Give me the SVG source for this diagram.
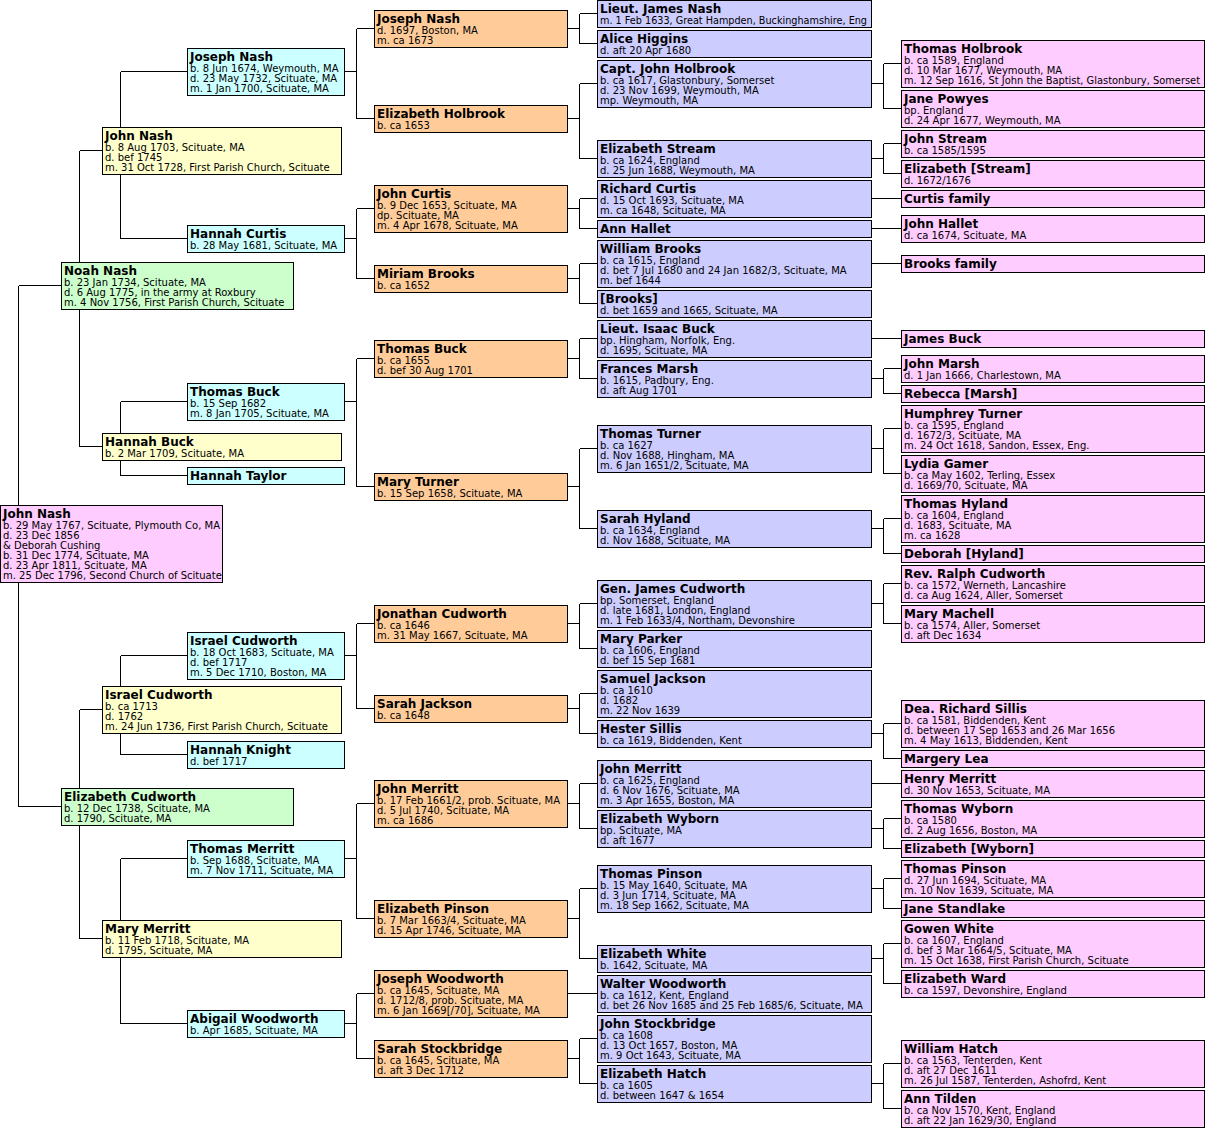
<svg xmlns="http://www.w3.org/2000/svg" width="1205" height="1128" viewBox="0 0 1205 1128">
<style>
g rect{stroke:#000;stroke-width:1;shape-rendering:crispEdges}
.pk{fill:#FFCCFF}.gr{fill:#CCFFCC}.ye{fill:#FFFFCC}.cy{fill:#CCFFFF}.or{fill:#FFCC99}.bl{fill:#CCCCFF}
.cn{fill:none;stroke:#000;stroke-width:1;shape-rendering:crispEdges}
text{font-family:"DejaVu Sans","Liberation Sans",sans-serif;fill:#000}
.t{font-size:12px;font-weight:bold}
.d{font-size:10px}
</style>
<rect x="0" y="0" width="1205" height="1128" style="fill:#fff;stroke:none"/>
<g id="connectors">
<path class="cn" d="M18.5 285.5V806.5M18.5 285.5H61.5M18.5 806.5H61.5"/>
<path class="cn" d="M79.5 150.5V446.5M79.5 150.5H102.5M79.5 446.5H102.5M79.5 709.5V938.5M79.5 709.5H102.5M79.5 938.5H102.5"/>
<path class="cn" d="M120.5 71.5V238.5M120.5 71.5H187.5M120.5 238.5H187.5M120.5 401.5V475.5M120.5 401.5H187.5M120.5 475.5H187.5M120.5 655.5V754.5M120.5 655.5H187.5M120.5 754.5H187.5M120.5 858.5V1023.5M120.5 858.5H187.5M120.5 1023.5H187.5"/>
<path class="cn" d="M344.5 71.5H356.5M356.5 28.5V118.5M356.5 28.5H374.5M356.5 118.5H374.5
M344.5 238.5H356.5M356.5 208.5V278.5M356.5 208.5H374.5M356.5 278.5H374.5
M344.5 401.5H356.5M356.5 358.5V486.5M356.5 358.5H374.5M356.5 486.5H374.5
M344.5 655.5H356.5M356.5 623.5V708.5M356.5 623.5H374.5M356.5 708.5H374.5
M344.5 858.5H356.5M356.5 803.5V918.5M356.5 803.5H374.5M356.5 918.5H374.5
M344.5 1023.5H356.5M356.5 993.5V1058.5M356.5 993.5H374.5M356.5 1058.5H374.5"/>
<path class="cn" d="M567.5 28.5H579.5M579.5 13.5V43.5M579.5 13.5H597.5M579.5 43.5H597.5
M567.5 118.5H579.5M579.5 83.5V158.5M579.5 83.5H597.5M579.5 158.5H597.5
M567.5 208.5H579.5M579.5 198.5V228.5M579.5 198.5H597.5M579.5 228.5H597.5
M567.5 278.5H579.5M579.5 263.5V303.5M579.5 263.5H597.5M579.5 303.5H597.5
M567.5 358.5H579.5M579.5 338.5V378.5M579.5 338.5H597.5M579.5 378.5H597.5
M567.5 486.5H579.5M579.5 448.5V528.5M579.5 448.5H597.5M579.5 528.5H597.5
M567.5 623.5H579.5M579.5 603.5V648.5M579.5 603.5H597.5M579.5 648.5H597.5
M567.5 708.5H579.5M579.5 693.5V733.5M579.5 693.5H597.5M579.5 733.5H597.5
M567.5 803.5H579.5M579.5 783.5V828.5M579.5 783.5H597.5M579.5 828.5H597.5
M567.5 918.5H579.5M579.5 888.5V958.5M579.5 888.5H597.5M579.5 958.5H597.5
M567.5 993.5H597.5
M567.5 1058.5H579.5M579.5 1038.5V1083.5M579.5 1038.5H597.5M579.5 1083.5H597.5"/>
<path class="cn" d="M871.5 83.5H883.5M883.5 63.5V108.5M883.5 63.5H901.5M883.5 108.5H901.5
M871.5 158.5H883.5M883.5 143.5V173.5M883.5 143.5H901.5M883.5 173.5H901.5
M871.5 198.5H901.5M871.5 228.5H901.5M871.5 263.5H901.5M871.5 338.5H901.5
M871.5 378.5H883.5M883.5 368.5V393.5M883.5 368.5H901.5M883.5 393.5H901.5
M871.5 448.5H883.5M883.5 428.5V473.5M883.5 428.5H901.5M883.5 473.5H901.5
M871.5 528.5H883.5M883.5 518.5V553.5M883.5 518.5H901.5M883.5 553.5H901.5
M871.5 603.5H883.5M883.5 583.5V623.5M883.5 583.5H901.5M883.5 623.5H901.5
M871.5 733.5H883.5M883.5 723.5V758.5M883.5 723.5H901.5M883.5 758.5H901.5
M871.5 783.5H901.5
M871.5 828.5H883.5M883.5 818.5V848.5M883.5 818.5H901.5M883.5 848.5H901.5
M871.5 888.5H883.5M883.5 878.5V908.5M883.5 878.5H901.5M883.5 908.5H901.5
M871.5 958.5H883.5M883.5 943.5V983.5M883.5 943.5H901.5M883.5 983.5H901.5
M871.5 1083.5H883.5M883.5 1063.5V1108.5M883.5 1063.5H901.5M883.5 1108.5H901.5"/>
</g>

<g id="root-john-nash"><rect class="pk" x="0.5" y="505.5" width="222" height="77"/>
<text class="t" x="3" y="518">John Nash</text>
<text class="d" x="3" y="529">b. 29 May 1767, Scituate, Plymouth Co, MA</text>
<text class="d" x="3" y="539">d. 23 Dec 1856</text>
<text class="d" x="3" y="549">&amp; Deborah Cushing</text>
<text class="d" x="3" y="559">b. 31 Dec 1774, Scituate, MA</text>
<text class="d" x="3" y="569">d. 23 Apr 1811, Scituate, MA</text>
<text class="d" x="3" y="579">m. 25 Dec 1796, Second Church of Scituate</text></g>

<g id="noah-nash"><rect class="gr" x="61.5" y="262.5" width="232" height="47"/>
<text class="t" x="64" y="275">Noah Nash</text>
<text class="d" x="64" y="286">b. 23 Jan 1734, Scituate, MA</text>
<text class="d" x="64" y="296">d. 6 Aug 1775, in the army at Roxbury</text>
<text class="d" x="64" y="306">m. 4 Nov 1756, First Parish Church, Scituate</text></g>
<g id="elizabeth-cudworth"><rect class="gr" x="61.5" y="788.5" width="232" height="37"/>
<text class="t" x="64" y="801">Elizabeth Cudworth</text>
<text class="d" x="64" y="812">b. 12 Dec 1738, Scituate, MA</text>
<text class="d" x="64" y="822">d. 1790, Scituate, MA</text></g>

<g id="john-nash-1703"><rect class="ye" x="102.5" y="127.5" width="239" height="47"/>
<text class="t" x="105" y="140">John Nash</text>
<text class="d" x="105" y="151">b. 8 Aug 1703, Scituate, MA</text>
<text class="d" x="105" y="161">d. bef 1745</text>
<text class="d" x="105" y="171">m. 31 Oct 1728, First Parish Church, Scituate</text></g>
<g id="hannah-buck"><rect class="ye" x="102.5" y="433.5" width="239" height="27"/>
<text class="t" x="105" y="446">Hannah Buck</text>
<text class="d" x="105" y="457">b. 2 Mar 1709, Scituate, MA</text></g>
<g id="israel-cudworth-1713"><rect class="ye" x="102.5" y="686.5" width="239" height="47"/>
<text class="t" x="105" y="699">Israel Cudworth</text>
<text class="d" x="105" y="710">b. ca 1713</text>
<text class="d" x="105" y="720">d. 1762</text>
<text class="d" x="105" y="730">m. 24 Jun 1736, First Parish Church, Scituate</text></g>
<g id="mary-merritt"><rect class="ye" x="102.5" y="920.5" width="239" height="37"/>
<text class="t" x="105" y="933">Mary Merritt</text>
<text class="d" x="105" y="944">b. 11 Feb 1718, Scituate, MA</text>
<text class="d" x="105" y="954">d. 1795, Scituate, MA</text></g>

<g id="joseph-nash-1674"><rect class="cy" x="187.5" y="48.5" width="157" height="47"/>
<text class="t" x="190" y="61">Joseph Nash</text>
<text class="d" x="190" y="72">b. 8 Jun 1674, Weymouth, MA</text>
<text class="d" x="190" y="82">d. 23 May 1732, Scituate, MA</text>
<text class="d" x="190" y="92">m. 1 Jan 1700, Scituate, MA</text></g>
<g id="hannah-curtis"><rect class="cy" x="187.5" y="225.5" width="157" height="27"/>
<text class="t" x="190" y="238">Hannah Curtis</text>
<text class="d" x="190" y="249">b. 28 May 1681, Scituate, MA</text></g>
<g id="thomas-buck-1682"><rect class="cy" x="187.5" y="383.5" width="157" height="37"/>
<text class="t" x="190" y="396">Thomas Buck</text>
<text class="d" x="190" y="407">b. 15 Sep 1682</text>
<text class="d" x="190" y="417">m. 8 Jan 1705, Scituate, MA</text></g>
<g id="hannah-taylor"><rect class="cy" x="187.5" y="467.5" width="157" height="17"/>
<text class="t" x="190" y="480">Hannah Taylor</text></g>
<g id="israel-cudworth-1683"><rect class="cy" x="187.5" y="632.5" width="157" height="47"/>
<text class="t" x="190" y="645">Israel Cudworth</text>
<text class="d" x="190" y="656">b. 18 Oct 1683, Scituate, MA</text>
<text class="d" x="190" y="666">d. bef 1717</text>
<text class="d" x="190" y="676">m. 5 Dec 1710, Boston, MA</text></g>
<g id="hannah-knight"><rect class="cy" x="187.5" y="741.5" width="157" height="27"/>
<text class="t" x="190" y="754">Hannah Knight</text>
<text class="d" x="190" y="765">d. bef 1717</text></g>
<g id="thomas-merritt"><rect class="cy" x="187.5" y="840.5" width="157" height="37"/>
<text class="t" x="190" y="853">Thomas Merritt</text>
<text class="d" x="190" y="864">b. Sep 1688, Scituate, MA</text>
<text class="d" x="190" y="874">m. 7 Nov 1711, Scituate, MA</text></g>
<g id="abigail-woodworth"><rect class="cy" x="187.5" y="1010.5" width="157" height="27"/>
<text class="t" x="190" y="1023">Abigail Woodworth</text>
<text class="d" x="190" y="1034">b. Apr 1685, Scituate, MA</text></g>

<g id="joseph-nash-1697"><rect class="or" x="374.5" y="10.5" width="193" height="37"/>
<text class="t" x="377" y="23">Joseph Nash</text>
<text class="d" x="377" y="34">d. 1697, Boston, MA</text>
<text class="d" x="377" y="44">m. ca 1673</text></g>
<g id="elizabeth-holbrook"><rect class="or" x="374.5" y="105.5" width="193" height="27"/>
<text class="t" x="377" y="118">Elizabeth Holbrook</text>
<text class="d" x="377" y="129">b. ca 1653</text></g>
<g id="john-curtis"><rect class="or" x="374.5" y="185.5" width="193" height="47"/>
<text class="t" x="377" y="198">John Curtis</text>
<text class="d" x="377" y="209">b. 9 Dec 1653, Scituate, MA</text>
<text class="d" x="377" y="219">dp. Scituate, MA</text>
<text class="d" x="377" y="229">m. 4 Apr 1678, Scituate, MA</text></g>
<g id="miriam-brooks"><rect class="or" x="374.5" y="265.5" width="193" height="27"/>
<text class="t" x="377" y="278">Miriam Brooks</text>
<text class="d" x="377" y="289">b. ca 1652</text></g>
<g id="thomas-buck-1655"><rect class="or" x="374.5" y="340.5" width="193" height="37"/>
<text class="t" x="377" y="353">Thomas Buck</text>
<text class="d" x="377" y="364">b. ca 1655</text>
<text class="d" x="377" y="374">d. bef 30 Aug 1701</text></g>
<g id="mary-turner"><rect class="or" x="374.5" y="473.5" width="193" height="27"/>
<text class="t" x="377" y="486">Mary Turner</text>
<text class="d" x="377" y="497">b. 15 Sep 1658, Scituate, MA</text></g>
<g id="jonathan-cudworth"><rect class="or" x="374.5" y="605.5" width="193" height="37"/>
<text class="t" x="377" y="618">Jonathan Cudworth</text>
<text class="d" x="377" y="629">b. ca 1646</text>
<text class="d" x="377" y="639">m. 31 May 1667, Scituate, MA</text></g>
<g id="sarah-jackson"><rect class="or" x="374.5" y="695.5" width="193" height="27"/>
<text class="t" x="377" y="708">Sarah Jackson</text>
<text class="d" x="377" y="719">b. ca 1648</text></g>
<g id="john-merritt-1661"><rect class="or" x="374.5" y="780.5" width="193" height="47"/>
<text class="t" x="377" y="793">John Merritt</text>
<text class="d" x="377" y="804">b. 17 Feb 1661/2, prob. Scituate, MA</text>
<text class="d" x="377" y="814">d. 5 Jul 1740, Scituate, MA</text>
<text class="d" x="377" y="824">m. ca 1686</text></g>
<g id="elizabeth-pinson"><rect class="or" x="374.5" y="900.5" width="193" height="37"/>
<text class="t" x="377" y="913">Elizabeth Pinson</text>
<text class="d" x="377" y="924">b. 7 Mar 1663/4, Scituate, MA</text>
<text class="d" x="377" y="934">d. 15 Apr 1746, Scituate, MA</text></g>
<g id="joseph-woodworth"><rect class="or" x="374.5" y="970.5" width="193" height="47"/>
<text class="t" x="377" y="983">Joseph Woodworth</text>
<text class="d" x="377" y="994">b. ca 1645, Scituate, MA</text>
<text class="d" x="377" y="1004">d. 1712/8, prob. Scituate, MA</text>
<text class="d" x="377" y="1014">m. 6 Jan 1669[/70], Scituate, MA</text></g>
<g id="sarah-stockbridge"><rect class="or" x="374.5" y="1040.5" width="193" height="37"/>
<text class="t" x="377" y="1053">Sarah Stockbridge</text>
<text class="d" x="377" y="1064">b. ca 1645, Scituate, MA</text>
<text class="d" x="377" y="1074">d. aft 3 Dec 1712</text></g>

<g id="lieut-james-nash"><rect class="bl" x="597.5" y="0.5" width="274" height="27"/>
<text class="t" x="600" y="13">Lieut. James Nash</text>
<text class="d" x="600" y="24" textLength="267" lengthAdjust="spacingAndGlyphs">m. 1 Feb 1633, Great Hampden, Buckinghamshire, Eng</text></g>
<g id="alice-higgins"><rect class="bl" x="597.5" y="30.5" width="274" height="27"/>
<text class="t" x="600" y="43">Alice Higgins</text>
<text class="d" x="600" y="54">d. aft 20 Apr 1680</text></g>
<g id="capt-john-holbrook"><rect class="bl" x="597.5" y="60.5" width="274" height="47"/>
<text class="t" x="600" y="73">Capt. John Holbrook</text>
<text class="d" x="600" y="84">b. ca 1617, Glastonbury, Somerset</text>
<text class="d" x="600" y="94">d. 23 Nov 1699, Weymouth, MA</text>
<text class="d" x="600" y="104">mp. Weymouth, MA</text></g>
<g id="elizabeth-stream"><rect class="bl" x="597.5" y="140.5" width="274" height="37"/>
<text class="t" x="600" y="153">Elizabeth Stream</text>
<text class="d" x="600" y="164">b. ca 1624, England</text>
<text class="d" x="600" y="174">d. 25 Jun 1688, Weymouth, MA</text></g>
<g id="richard-curtis"><rect class="bl" x="597.5" y="180.5" width="274" height="37"/>
<text class="t" x="600" y="193">Richard Curtis</text>
<text class="d" x="600" y="204">d. 15 Oct 1693, Scituate, MA</text>
<text class="d" x="600" y="214">m. ca 1648, Scituate, MA</text></g>
<g id="ann-hallet"><rect class="bl" x="597.5" y="220.5" width="274" height="17"/>
<text class="t" x="600" y="233">Ann Hallet</text></g>
<g id="william-brooks"><rect class="bl" x="597.5" y="240.5" width="274" height="47"/>
<text class="t" x="600" y="253">William Brooks</text>
<text class="d" x="600" y="264">b. ca 1615, England</text>
<text class="d" x="600" y="274">d. bet 7 Jul 1680 and 24 Jan 1682/3, Scituate, MA</text>
<text class="d" x="600" y="284">m. bef 1644</text></g>
<g id="brooks"><rect class="bl" x="597.5" y="290.5" width="274" height="27"/>
<text class="t" x="600" y="303">[Brooks]</text>
<text class="d" x="600" y="314">d. bet 1659 and 1665, Scituate, MA</text></g>
<g id="lieut-isaac-buck"><rect class="bl" x="597.5" y="320.5" width="274" height="37"/>
<text class="t" x="600" y="333">Lieut. Isaac Buck</text>
<text class="d" x="600" y="344">bp. Hingham, Norfolk, Eng.</text>
<text class="d" x="600" y="354">d. 1695, Scituate, MA</text></g>
<g id="frances-marsh"><rect class="bl" x="597.5" y="360.5" width="274" height="37"/>
<text class="t" x="600" y="373">Frances Marsh</text>
<text class="d" x="600" y="384">b. 1615, Padbury, Eng.</text>
<text class="d" x="600" y="394">d. aft Aug 1701</text></g>
<g id="thomas-turner"><rect class="bl" x="597.5" y="425.5" width="274" height="47"/>
<text class="t" x="600" y="438">Thomas Turner</text>
<text class="d" x="600" y="449">b. ca 1627</text>
<text class="d" x="600" y="459">d. Nov 1688, Hingham, MA</text>
<text class="d" x="600" y="469">m. 6 Jan 1651/2, Scituate, MA</text></g>
<g id="sarah-hyland"><rect class="bl" x="597.5" y="510.5" width="274" height="37"/>
<text class="t" x="600" y="523">Sarah Hyland</text>
<text class="d" x="600" y="534">b. ca 1634, England</text>
<text class="d" x="600" y="544">d. Nov 1688, Scituate, MA</text></g>
<g id="gen-james-cudworth"><rect class="bl" x="597.5" y="580.5" width="274" height="47"/>
<text class="t" x="600" y="593">Gen. James Cudworth</text>
<text class="d" x="600" y="604">bp. Somerset, England</text>
<text class="d" x="600" y="614">d. late 1681, London, England</text>
<text class="d" x="600" y="624">m. 1 Feb 1633/4, Northam, Devonshire</text></g>
<g id="mary-parker"><rect class="bl" x="597.5" y="630.5" width="274" height="37"/>
<text class="t" x="600" y="643">Mary Parker</text>
<text class="d" x="600" y="654">b. ca 1606, England</text>
<text class="d" x="600" y="664">d. bef 15 Sep 1681</text></g>
<g id="samuel-jackson"><rect class="bl" x="597.5" y="670.5" width="274" height="47"/>
<text class="t" x="600" y="683">Samuel Jackson</text>
<text class="d" x="600" y="694">b. ca 1610</text>
<text class="d" x="600" y="704">d. 1682</text>
<text class="d" x="600" y="714">m. 22 Nov 1639</text></g>
<g id="hester-sillis"><rect class="bl" x="597.5" y="720.5" width="274" height="27"/>
<text class="t" x="600" y="733">Hester Sillis</text>
<text class="d" x="600" y="744">b. ca 1619, Biddenden, Kent</text></g>
<g id="john-merritt-1625"><rect class="bl" x="597.5" y="760.5" width="274" height="47"/>
<text class="t" x="600" y="773">John Merritt</text>
<text class="d" x="600" y="784">b. ca 1625, England</text>
<text class="d" x="600" y="794">d. 6 Nov 1676, Scituate, MA</text>
<text class="d" x="600" y="804">m. 3 Apr 1655, Boston, MA</text></g>
<g id="elizabeth-wyborn"><rect class="bl" x="597.5" y="810.5" width="274" height="37"/>
<text class="t" x="600" y="823">Elizabeth Wyborn</text>
<text class="d" x="600" y="834">bp. Scituate, MA</text>
<text class="d" x="600" y="844">d. aft 1677</text></g>
<g id="thomas-pinson-1640"><rect class="bl" x="597.5" y="865.5" width="274" height="47"/>
<text class="t" x="600" y="878">Thomas Pinson</text>
<text class="d" x="600" y="889">b. 15 May 1640, Scituate, MA</text>
<text class="d" x="600" y="899">d. 3 Jun 1714, Scituate, MA</text>
<text class="d" x="600" y="909">m. 18 Sep 1662, Scituate, MA</text></g>
<g id="elizabeth-white"><rect class="bl" x="597.5" y="945.5" width="274" height="27"/>
<text class="t" x="600" y="958">Elizabeth White</text>
<text class="d" x="600" y="969">b. 1642, Scituate, MA</text></g>
<g id="walter-woodworth"><rect class="bl" x="597.5" y="975.5" width="274" height="37"/>
<text class="t" x="600" y="988">Walter Woodworth</text>
<text class="d" x="600" y="999">b. ca 1612, Kent, England</text>
<text class="d" x="600" y="1009">d. bet 26 Nov 1685 and 25 Feb 1685/6, Scituate, MA</text></g>
<g id="john-stockbridge"><rect class="bl" x="597.5" y="1015.5" width="274" height="47"/>
<text class="t" x="600" y="1028">John Stockbridge</text>
<text class="d" x="600" y="1039">b. ca 1608</text>
<text class="d" x="600" y="1049">d. 13 Oct 1657, Boston, MA</text>
<text class="d" x="600" y="1059">m. 9 Oct 1643, Scituate, MA</text></g>
<g id="elizabeth-hatch"><rect class="bl" x="597.5" y="1065.5" width="274" height="37"/>
<text class="t" x="600" y="1078">Elizabeth Hatch</text>
<text class="d" x="600" y="1089">b. ca 1605</text>
<text class="d" x="600" y="1099">d. between 1647 &amp; 1654</text></g>

<g id="thomas-holbrook"><rect class="pk" x="901.5" y="40.5" width="303" height="47"/>
<text class="t" x="904" y="53">Thomas Holbrook</text>
<text class="d" x="904" y="64">b. ca 1589, England</text>
<text class="d" x="904" y="74">d. 10 Mar 1677, Weymouth, MA</text>
<text class="d" x="904" y="84" textLength="296" lengthAdjust="spacingAndGlyphs">m. 12 Sep 1616, St John the Baptist, Glastonbury, Somerset</text></g>
<g id="jane-powyes"><rect class="pk" x="901.5" y="90.5" width="303" height="37"/>
<text class="t" x="904" y="103">Jane Powyes</text>
<text class="d" x="904" y="114">bp. England</text>
<text class="d" x="904" y="124">d. 24 Apr 1677, Weymouth, MA</text></g>
<g id="john-stream"><rect class="pk" x="901.5" y="130.5" width="303" height="27"/>
<text class="t" x="904" y="143">John Stream</text>
<text class="d" x="904" y="154">b. ca 1585/1595</text></g>
<g id="elizabeth-stream-mother"><rect class="pk" x="901.5" y="160.5" width="303" height="27"/>
<text class="t" x="904" y="173">Elizabeth [Stream]</text>
<text class="d" x="904" y="184">d. 1672/1676</text></g>
<g id="curtis-family"><rect class="pk" x="901.5" y="190.5" width="303" height="17"/>
<text class="t" x="904" y="203">Curtis family</text></g>
<g id="john-hallet"><rect class="pk" x="901.5" y="215.5" width="303" height="27"/>
<text class="t" x="904" y="228">John Hallet</text>
<text class="d" x="904" y="239">d. ca 1674, Scituate, MA</text></g>
<g id="brooks-family"><rect class="pk" x="901.5" y="255.5" width="303" height="17"/>
<text class="t" x="904" y="268">Brooks family</text></g>
<g id="james-buck"><rect class="pk" x="901.5" y="330.5" width="303" height="17"/>
<text class="t" x="904" y="343">James Buck</text></g>
<g id="john-marsh"><rect class="pk" x="901.5" y="355.5" width="303" height="27"/>
<text class="t" x="904" y="368">John Marsh</text>
<text class="d" x="904" y="379">d. 1 Jan 1666, Charlestown, MA</text></g>
<g id="rebecca-marsh"><rect class="pk" x="901.5" y="385.5" width="303" height="17"/>
<text class="t" x="904" y="398">Rebecca [Marsh]</text></g>
<g id="humphrey-turner"><rect class="pk" x="901.5" y="405.5" width="303" height="47"/>
<text class="t" x="904" y="418">Humphrey Turner</text>
<text class="d" x="904" y="429">b. ca 1595, England</text>
<text class="d" x="904" y="439">d. 1672/3, Scituate, MA</text>
<text class="d" x="904" y="449">m. 24 Oct 1618, Sandon, Essex, Eng.</text></g>
<g id="lydia-gamer"><rect class="pk" x="901.5" y="455.5" width="303" height="37"/>
<text class="t" x="904" y="468">Lydia Gamer</text>
<text class="d" x="904" y="479">b. ca May 1602, Terling, Essex</text>
<text class="d" x="904" y="489">d. 1669/70, Scituate, MA</text></g>
<g id="thomas-hyland"><rect class="pk" x="901.5" y="495.5" width="303" height="47"/>
<text class="t" x="904" y="508">Thomas Hyland</text>
<text class="d" x="904" y="519">b. ca 1604, England</text>
<text class="d" x="904" y="529">d. 1683, Scituate, MA</text>
<text class="d" x="904" y="539">m. ca 1628</text></g>
<g id="deborah-hyland"><rect class="pk" x="901.5" y="545.5" width="303" height="17"/>
<text class="t" x="904" y="558">Deborah [Hyland]</text></g>
<g id="rev-ralph-cudworth"><rect class="pk" x="901.5" y="565.5" width="303" height="37"/>
<text class="t" x="904" y="578">Rev. Ralph Cudworth</text>
<text class="d" x="904" y="589">b. ca 1572, Werneth, Lancashire</text>
<text class="d" x="904" y="599">d. ca Aug 1624, Aller, Somerset</text></g>
<g id="mary-machell"><rect class="pk" x="901.5" y="605.5" width="303" height="37"/>
<text class="t" x="904" y="618">Mary Machell</text>
<text class="d" x="904" y="629">b. ca 1574, Aller, Somerset</text>
<text class="d" x="904" y="639">d. aft Dec 1634</text></g>
<g id="dea-richard-sillis"><rect class="pk" x="901.5" y="700.5" width="303" height="47"/>
<text class="t" x="904" y="713">Dea. Richard Sillis</text>
<text class="d" x="904" y="724">b. ca 1581, Biddenden, Kent</text>
<text class="d" x="904" y="734">d. between 17 Sep 1653 and 26 Mar 1656</text>
<text class="d" x="904" y="744">m. 4 May 1613, Biddenden, Kent</text></g>
<g id="margery-lea"><rect class="pk" x="901.5" y="750.5" width="303" height="17"/>
<text class="t" x="904" y="763">Margery Lea</text></g>
<g id="henry-merritt"><rect class="pk" x="901.5" y="770.5" width="303" height="27"/>
<text class="t" x="904" y="783">Henry Merritt</text>
<text class="d" x="904" y="794">d. 30 Nov 1653, Scituate, MA</text></g>
<g id="thomas-wyborn"><rect class="pk" x="901.5" y="800.5" width="303" height="37"/>
<text class="t" x="904" y="813">Thomas Wyborn</text>
<text class="d" x="904" y="824">b. ca 1580</text>
<text class="d" x="904" y="834">d. 2 Aug 1656, Boston, MA</text></g>
<g id="elizabeth-wyborn-mother"><rect class="pk" x="901.5" y="840.5" width="303" height="17"/>
<text class="t" x="904" y="853">Elizabeth [Wyborn]</text></g>
<g id="thomas-pinson-1694"><rect class="pk" x="901.5" y="860.5" width="303" height="37"/>
<text class="t" x="904" y="873">Thomas Pinson</text>
<text class="d" x="904" y="884">d. 27 Jun 1694, Scituate, MA</text>
<text class="d" x="904" y="894">m. 10 Nov 1639, Scituate, MA</text></g>
<g id="jane-standlake"><rect class="pk" x="901.5" y="900.5" width="303" height="17"/>
<text class="t" x="904" y="913">Jane Standlake</text></g>
<g id="gowen-white"><rect class="pk" x="901.5" y="920.5" width="303" height="47"/>
<text class="t" x="904" y="933">Gowen White</text>
<text class="d" x="904" y="944">b. ca 1607, England</text>
<text class="d" x="904" y="954">d. bef 3 Mar 1664/5, Scituate, MA</text>
<text class="d" x="904" y="964">m. 15 Oct 1638, First Parish Church, Scituate</text></g>
<g id="elizabeth-ward"><rect class="pk" x="901.5" y="970.5" width="303" height="27"/>
<text class="t" x="904" y="983">Elizabeth Ward</text>
<text class="d" x="904" y="994">b. ca 1597, Devonshire, England</text></g>
<g id="william-hatch"><rect class="pk" x="901.5" y="1040.5" width="303" height="47"/>
<text class="t" x="904" y="1053">William Hatch</text>
<text class="d" x="904" y="1064">b. ca 1563, Tenterden, Kent</text>
<text class="d" x="904" y="1074">d. aft 27 Dec 1611</text>
<text class="d" x="904" y="1084">m. 26 Jul 1587, Tenterden, Ashofrd, Kent</text></g>
<g id="ann-tilden"><rect class="pk" x="901.5" y="1090.5" width="303" height="37"/>
<text class="t" x="904" y="1103">Ann Tilden</text>
<text class="d" x="904" y="1114">b. ca Nov 1570, Kent, England</text>
<text class="d" x="904" y="1124">d. aft 22 Jan 1629/30, England</text></g>
</svg>
